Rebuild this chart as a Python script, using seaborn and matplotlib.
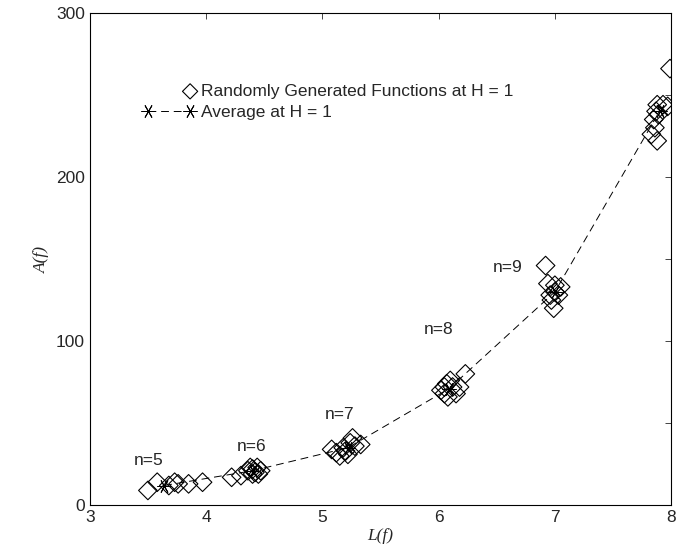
import matplotlib
matplotlib.use("Agg")
import matplotlib.pyplot as plt
import numpy as np
import pandas as pd
import seaborn as sns
from matplotlib.legend_handler import HandlerPathCollection

# randomly generated functions, grouped by n
rand_L = [3.50, 3.58, 3.68, 3.73, 3.76, 3.85, 3.97,
          4.22, 4.30, 4.36, 4.40, 4.42, 4.44, 4.45, 4.47, 4.40, 4.38,
          5.08, 5.12, 5.15, 5.18, 5.20, 5.24, 5.26, 5.28, 5.33, 5.22,
          6.02, 6.05, 6.07, 6.10, 6.08, 6.12, 6.15, 6.18, 6.23, 6.05,
          6.92, 6.94, 6.97, 6.99, 7.00, 7.03, 7.05, 7.00, 6.96,
          7.83, 7.86, 7.88, 7.85, 7.87, 7.88, 7.93, 7.97, 7.99, 7.89]
rand_A = [9, 14, 12, 14, 13, 13, 14,
          17, 18, 21, 22, 20, 23, 19, 21, 19, 23,
          34, 32, 30, 35, 33, 38, 41, 36, 37, 31,
          70, 68, 74, 76, 66, 72, 68, 72, 80, 72,
          146, 135, 125, 120, 130, 128, 133, 134, 128,
          226, 230, 222, 235, 240, 244, 244, 243, 266, 238]

# averages for each n
avg_L = [3.64, 4.40, 5.22, 6.09, 7.00, 7.90]
avg_A = [12, 21, 35, 71, 130, 240]

n_labels = ["n=5", "n=6", "n=7", "n=8", "n=9"]
n_label_L = [3.51, 4.39, 5.15, 6.00, 6.59]
n_label_A = [27, 36, 55, 107, 145]

rand_df = pd.DataFrame({"L": rand_L, "A": rand_A})
avg_df = pd.DataFrame({"L": avg_L, "A": avg_A})


# put the single legend diamond at the right end of its handle box
class RightMarker(HandlerPathCollection):
    def get_xdata(self, legend, xdescent, ydescent, width, height, fontsize):
        x = width * 0.9 - xdescent
        return [x], [x]


sns.set_style("white")
plt.rcParams["font.family"] = ["Liberation Sans", "DejaVu Sans"]

fig = plt.figure(figsize=(6.8, 5.57), dpi=100)
ax = fig.add_axes([0.132, 0.093, 0.855, 0.884])

sns.scatterplot(data=rand_df, x="L", y="A", marker="D", s=90,
                facecolors="none", edgecolor="black", linewidth=0.8,
                ax=ax, label="Randomly Generated Functions at H = 1")
sns.lineplot(data=avg_df, x="L", y="A", color="black", linewidth=0.7,
             ax=ax, label="Average at H = 1")
avg_line = ax.lines[-1]
avg_line.set_linestyle((0, (8, 5)))
avg_line.set_marker((6, 2, 90))
avg_line.set_markersize(10)
avg_line.set_markeredgewidth(0.7)
avg_line.set_markeredgecolor("black")

for t, x, y in zip(n_labels, n_label_L, n_label_A):
    ax.text(x, y, t, fontsize=12.5, ha="center", va="center")

ax.set_xlim(3, 8)
ax.set_ylim(0, 300)
ax.set_xticks([3, 4, 5, 6, 7, 8])
ax.set_yticks([0, 100, 200, 300])
ax.set_yticks([50, 150, 250], minor=True)
ax.tick_params(direction="in", length=4, width=0.6, labelsize=12.5,
               top=True, right=True, which="both")
for s in ax.spines.values():
    s.set_linewidth(0.8)
    s.set_color("black")

ax.set_xlabel("L(f)", fontsize=12.5, fontstyle="italic",
              family=["Liberation Serif"], labelpad=2)
ax.set_ylabel("A(f)", fontsize=12.5, fontstyle="italic",
              family=["Liberation Serif"])

handles, labels = ax.get_legend_handles_labels()
ax.legend(handles, labels, loc="upper left", bbox_to_anchor=(0.08, 0.87),
          frameon=False, fontsize=12.5, handlelength=3.0, handletextpad=0.3,
          borderaxespad=0, labelspacing=0.35, numpoints=2,
          handler_map={type(handles[0]): RightMarker(sizes=[60])})

fig.savefig("out.png", dpi=100)
